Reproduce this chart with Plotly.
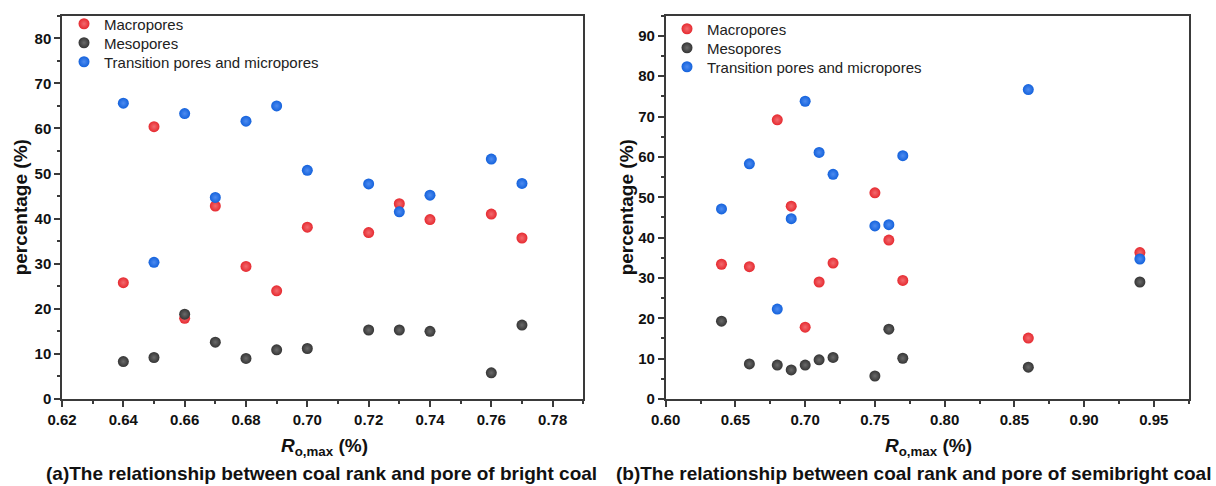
import plotly.graph_objects as go

# ---- data: (a) bright coal ----
x_a = [0.64, 0.65, 0.66, 0.67, 0.68, 0.69, 0.70, 0.72, 0.73, 0.74, 0.76, 0.77]
macro_a = [25.8, 60.4, 17.9, 42.8, 29.4, 24.0, 38.1, 36.9, 43.3, 39.8, 41.0, 35.7]
meso_a = [8.3, 9.2, 18.8, 12.6, 9.0, 10.9, 11.2, 15.3, 15.3, 15.0, 5.8, 16.4]
trans_a = [65.6, 30.3, 63.3, 44.7, 61.6, 65.0, 50.7, 47.7, 41.5, 45.2, 53.2, 47.8]

# ---- data: (b) semibright coal ----
x_b = [0.64, 0.66, 0.68, 0.69, 0.70, 0.71, 0.72, 0.75, 0.76, 0.77, 0.86, 0.94]
macro_b = [33.4, 32.8, 69.2, 47.8, 17.8, 29.0, 33.7, 51.1, 39.4, 29.4, 15.1, 36.3]
meso_b = [19.3, 8.7, 8.4, 7.2, 8.4, 9.7, 10.3, 5.7, 17.3, 10.1, 7.9, 29.0]
trans_b = [47.1, 58.3, 22.3, 44.7, 73.8, 61.1, 55.7, 42.9, 43.2, 60.3, 76.7, 34.7]

series_names = ["Macropores", "Mesopores", "Transition pores and micropores"]
colors = ["#e62a30", "#353535", "#1462dc"]
light = ["#f26a6e", "#6a6a6a", "#4d8bf0"]

x_ticks_a = [0.62, 0.64, 0.66, 0.68, 0.70, 0.72, 0.74, 0.76, 0.78]
x_ticks_b = [0.60, 0.65, 0.70, 0.75, 0.80, 0.85, 0.90, 0.95]

W, H = 1216, 486
FONT = "Liberation Sans, Arial, sans-serif"

def px_x(p):
    return p / W

def px_y(p):
    return (H - p) / H

fig = go.Figure()

# legend row positions (pixels): panel a text at x=104, rows 24/43/62; panel b text at x=707, rows 29/48/67
leg_rows_a = [24, 43, 62]
leg_rows_b = [29, 48, 67]
legend_layout = {}
idx = 1

def add(xs, ys, name, color, lc, xa, ya, text_x, row_y):
    global idx
    lname = "legend" if idx == 1 else f"legend{idx}"
    fig.add_trace(go.Scatter(
        x=xs, y=ys, mode="markers", name=name, xaxis=xa, yaxis=ya, legend=lname,
        marker=dict(size=11, color=color, gradient=dict(type="radial", color=lc),
                    line=dict(width=0)),
    ))
    legend_layout[lname] = dict(
        x=px_x(text_x - 40), y=px_y(row_y), xanchor="left", yanchor="middle",
        font=dict(family=FONT, size=15, color="#222222"),
        bgcolor="rgba(0,0,0,0)", borderwidth=0, itemwidth=30,
    )
    idx += 1

for name, c, lc, ys, ry in zip(series_names, colors, light, [macro_a, meso_a, trans_a], leg_rows_a):
    add(x_a, ys, name, c, lc, "x", "y", 104, ry)
for name, c, lc, ys, ry in zip(series_names, colors, light, [macro_b, meso_b, trans_b], leg_rows_b):
    add(x_b, ys, name, c, lc, "x2", "y2", 707, ry)

ydom = [px_y(399), px_y(15.7)]
axis_common = dict(
    showline=True, linecolor="#3a3a3a", linewidth=1.5, mirror=True,
    ticks="outside", ticklen=6, tickwidth=1.5, tickcolor="#3a3a3a",
    showgrid=False, zeroline=False, automargin=False,
    tickfont=dict(family=FONT, size=15, color="#111111", weight="bold"),
)
minor_common = dict(ticklen=3, tickwidth=1.5, tickcolor="#3a3a3a", ticks="outside", showgrid=False)

fig.update_layout(
    width=W, height=H, margin=dict(l=0, r=0, t=0, b=0, autoexpand=False),
    paper_bgcolor="white", plot_bgcolor="white",
    font=dict(family=FONT),
    xaxis=dict(domain=[px_x(62), px_x(583.3)], range=[0.62, 0.79], tickvals=x_ticks_a,
               tickformat=".2f", anchor="y",
               minor=dict(dtick=0.01, tick0=0.62, **minor_common), **axis_common),
    yaxis=dict(domain=ydom, range=[0, 85], dtick=10, anchor="x",
               minor=dict(dtick=5, **minor_common), **axis_common),
    xaxis2=dict(domain=[px_x(665.7), px_x(1188.7)], range=[0.6, 0.975], tickvals=x_ticks_b,
                tickformat=".2f", anchor="y2",
                minor=dict(dtick=0.025, tick0=0.6, **minor_common), **axis_common),
    yaxis2=dict(domain=ydom, range=[0, 95], dtick=10, anchor="x2",
                minor=dict(dtick=5, **minor_common), **axis_common),
    showlegend=True,
    **legend_layout,
)

title_font = dict(family=FONT, size=19, color="#111111")
anns = [
    dict(text="<b>percentage (%)</b>", x=px_x(20), y=(ydom[0] + ydom[1]) / 2, textangle=-90, font=title_font),
    dict(text="<b>percentage (%)</b>", x=px_x(626), y=(ydom[0] + ydom[1]) / 2, textangle=-90, font=title_font),
    dict(text="<b><i>R</i><sub>o,max</sub> (%)</b>", x=px_x(324), y=px_y(447), font=title_font),
    dict(text="<b><i>R</i><sub>o,max</sub> (%)</b>", x=px_x(928), y=px_y(447), font=title_font),
    dict(text="<b>(a)The relationship between coal rank and pore of bright coal</b>", x=px_x(321.5), y=px_y(473),
         font=title_font),
    dict(text="<b>(b)The relationship between coal rank and pore of semibright coal</b>", x=px_x(913), y=px_y(473),
         font=title_font),
]
for a in anns:
    fig.add_annotation(xref="paper", yref="paper", showarrow=False, xanchor="center", yanchor="middle", **a)

fig.write_html("out.html")
